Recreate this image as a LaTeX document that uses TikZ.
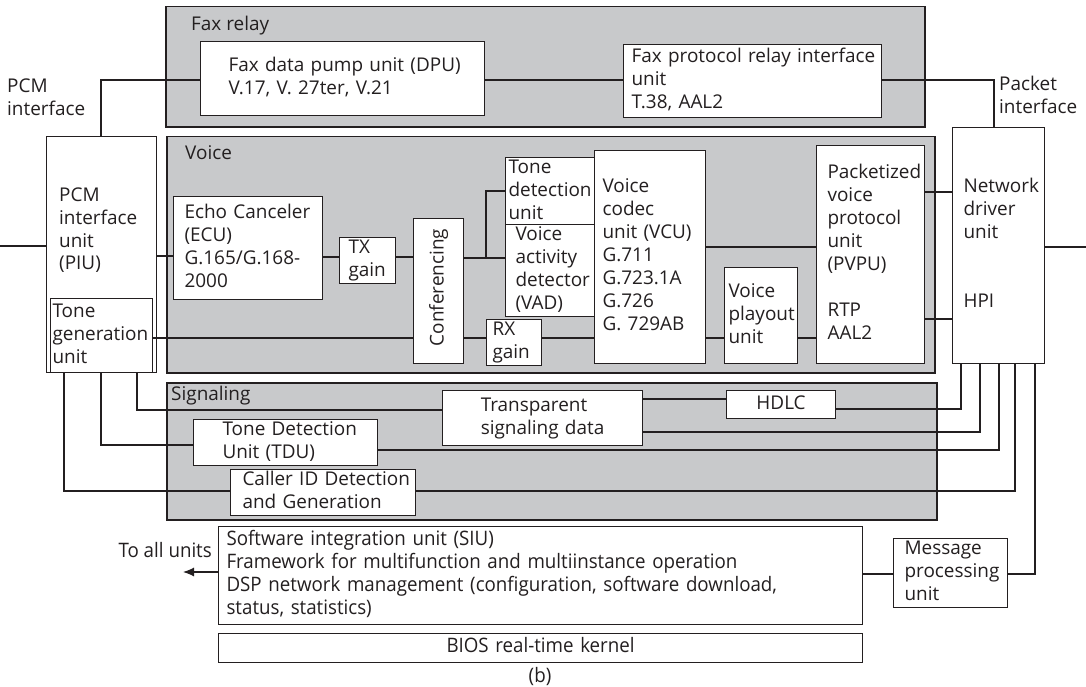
\documentclass[tikz,border=0pt]{standalone}
\usepackage{fontspec}
\setmainfont{Open Sans}
\newfontfamily\condfont[FakeStretch=0.94]{Open Sans}
\usepackage{graphicx}
\usetikzlibrary{arrows.meta}
\definecolor{panel}{RGB}{200,201,203}
\definecolor{ink}{RGB}{35,31,32}
\newcommand\ml[1]{\begin{tabular}{@{}l@{}}#1\end{tabular}}
\newcommand\bx[8][]{%
  \pgfmathsetmacro\bxw{#5-#3}%
  \pgfmathsetmacro\bxh{#6-#4}%
  \pgfmathsetmacro\bxt{#5-#3-2*#7}%
  \node[box,anchor=north west,minimum width=\bxw bp,minimum height=\bxh bp,
        inner xsep=#7 bp,text width=\bxt bp,align=left,#1] (#2) at (#3,#4) {\ml{#8}};}
\tikzset{
  box/.style={draw=ink,fill=white,line width=1.1bp,inner ysep=0pt},
  panelst/.style={draw=ink,fill=panel,line width=1.5bp},
  lbl/.style={inner sep=0pt,align=left,text=ink},
  wire/.style={draw=ink,line width=1.1bp},
  cond/.style={font=\condfont\fontsize{20}{23}\selectfont}
}
\begin{document}
\begin{tikzpicture}[x=1bp,y=-1bp,font=\fontsize{19}{23}\selectfont,text=ink]
\fill[white] (0,0) rectangle (1086,687);
\useasboundingbox (0,0) rectangle (1086,687);
% panels
\bx[panelst]{faxp}{165}{6}{924}{126}{0}{}
\bx[panelst]{voicep}{166}{136}{934}{372}{0}{}
\bx[panelst]{sigp}{166}{382}{936}{519}{0}{}
\node[lbl,anchor=west] (faxlbl) at (191,26) {Fax relay};
\node[lbl,anchor=west] (voicelbl) at (185,153) {Voice};
\node[lbl,anchor=west] (siglbl) at (171,396) {Signaling};
% outer labels
\node[lbl,anchor=west] (pcmlbl) at (7,99.5) {\ml{PCM\\interface}};
\node[lbl,anchor=west] (pktlbl) at (999,97) {\ml{Packet\\interface}};
\node[lbl,cond,anchor=east] (alllbl) at (212,550) {To all units};
\node[lbl,cond] (blbl) at (540,677) {(b)};
% fax relay
\bx{dpu}{200}{41}{484}{115}{28}{Fax data pump unit (DPU)\\V.17, V. 27ter, V.21}
\bx{fpr}{623}{44}{881}{117}{8}{Fax protocol relay interface\\unit\\T.38, AAL2}
% PIU
\bx{piu}{46}{136}{156}{372}{4}{}
\node[lbl,anchor=west] (piulbl) at (59,231) {\ml{PCM\\interface\\unit\\(PIU)}};
\bx{tgen}{50}{298}{152}{372}{2}{Tone\\generation\\unit}
% voice
\bx{ecu}{173}{196}{322}{299}{11}{Echo Canceler\\(ECU)\\G.165/G.168-\\2000}
\bx{tx}{339}{237}{395}{282}{9}{TX\\gain}
\bx[align=center]{conf}{413}{218}{463}{363}{4}{\rotatebox{90}{Conferencing}}
\bx{tdet}{505}{157}{594}{222}{3}{Tone\\detection\\unit}
\bx{vad}{505}{224}{594}{309}{10}{Voice\\activity\\detector\\(VAD)}
\bx{rx}{486}{319}{541}{365}{6}{RX\\gain}
\bx{vcu}{594}{150}{705}{363}{8}{Voice\\codec\\unit (VCU)\\G.711\\G.723.1A\\G.726\\G. 729AB}
\bx{vpo}{724}{267}{797}{363}{4}{Voice\\playout\\unit}
\bx{pvpu}{816}{145}{924}{363}{11}{Packetized\\voice\\protocol\\unit\\(PVPU)\\{}\\RTP\\AAL2}
\bx{ndu}{952}{127}{1044}{363}{11}{Network\\driver\\unit\\{}\\{}\\HPI}
% signaling
\bx{tdu}{193}{419}{377}{464}{29}{Tone Detection\\Unit (TDU)}
\bx{cid}{230}{469}{415}{515}{12}{Caller ID Detection\\and Generation}
\bx[align=center]{tsd}{442}{390}{642}{445}{4}{Transparent\\signaling data}
\bx[align=center]{hdlc}{726}{390}{835}{418}{4}{HDLC}
% bottom
\bx{mpu}{893}{538}{1007}{607}{11}{Message\\processing\\unit}
\bx[cond]{siu}{218}{526}{862}{624}{8}{Software integration unit (SIU)\\Framework for multifunction and multiinstance operation\\DSP network management (configuration, software download,\\status, statistics)}
\bx[cond,align=center]{bios}{218}{633}{862}{662}{4}{BIOS real-time kernel}
% coordinates
\coordinate (pcmin) at (0,246);
\coordinate (pktout) at (1086,247);
\coordinate (jn) at (486,258);
\coordinate (allu) at (183,572);
% wires
\draw[wire] (pcmin) -- (piu.west |- pcmin);
\draw[wire] (piu.east |- 0,256) -- (ecu.west |- 0,256);
\draw[wire] (ecu.east |- 0,257) -- (tx.west |- 0,257);
\draw[wire] (tx.east |- 0,257) -- (conf.west |- 0,257);
\draw[wire] (conf.east |- 0,258) -- (vad.west |- 0,258);
\draw[wire] (jn) |- (tdet.west |- 0,191);
\draw[wire] (vcu.east |- 0,247) -- (pvpu.west |- 0,247);
\draw[wire] (tgen.east |- 0,338) -- (conf.west |- 0,338);
\draw[wire] (conf.east |- 0,338) -- (rx.west |- 0,338);
\draw[wire] (rx.east |- 0,338) -- (vcu.west |- 0,338);
\draw[wire] (vcu.east |- 0,338) -- (vpo.west |- 0,338);
\draw[wire] (vpo.east |- 0,338) -- (pvpu.west |- 0,338);
\draw[wire] (pvpu.east |- 0,192) -- (ndu.west |- 0,192);
\draw[wire] (pvpu.east |- 0,319) -- (ndu.west |- 0,319);
\draw[wire] (ndu.east |- pktout) -- (pktout);
\draw[wire] (piu.north -| 101,0) |- (dpu.west |- 0,80);
\draw[wire] (dpu.east |- 0,80) -- (fpr.west |- 0,80);
\draw[wire] (fpr.east |- 0,80) -| (ndu.north -| 994,0);
\draw[wire] (piu.south -| 137,0) |- (tsd.west |- 0,410);
\draw[wire] (piu.south -| 101,0) |- (tdu.west |- 0,445);
\draw[wire] (piu.south -| 64,0) |- (cid.west |- 0,491);
\draw[wire] (tsd.east |- 0,399) -- (hdlc.west |- 0,399);
\draw[wire] (hdlc.east |- 0,409) -| (ndu.south -| 961,0);
\draw[wire] (tsd.east |- 0,432) -| (ndu.south -| 980,0);
\draw[wire] (tdu.east |- 0,450) -| (ndu.south -| 999,0);
\draw[wire] (cid.east |- 0,491) -| (ndu.south -| 1015,0);
\draw[wire] (mpu.east |- 0,574) -| (ndu.south -| 1035,0);
\draw[wire] (siu.east |- 0,574) -- (mpu.west |- 0,574);
\draw[wire,-{Latex[length=11bp,width=9bp]}] (siu.west |- 0,572) -- (allu);
\end{tikzpicture}
\end{document}
